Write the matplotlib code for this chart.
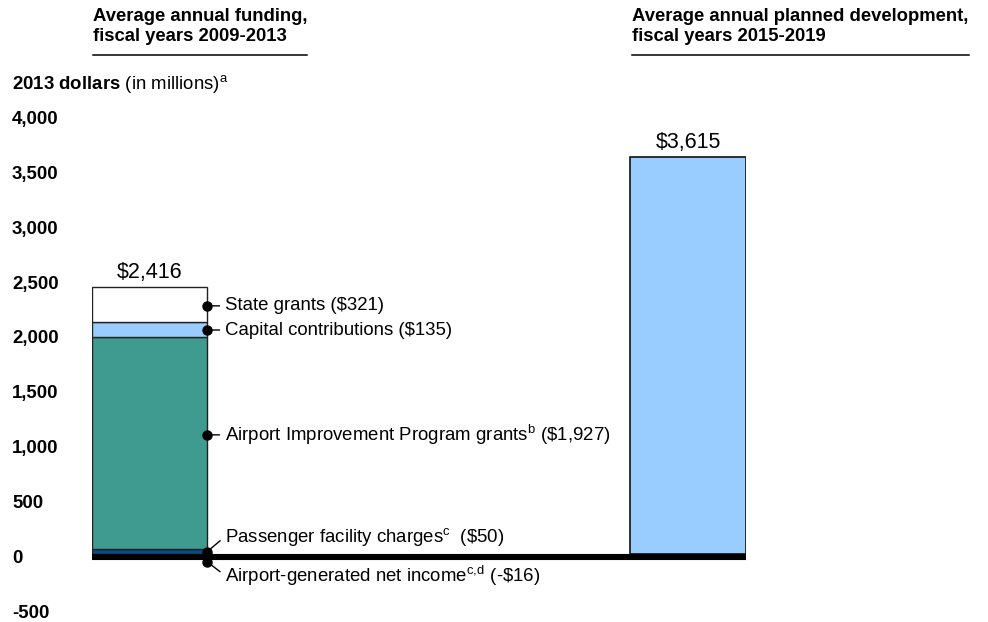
import matplotlib
matplotlib.use("Agg")
import matplotlib.pyplot as plt
from matplotlib.lines import Line2D
from matplotlib.transforms import ScaledTranslation

plt.rcParams['font.family'] = ['Liberation Sans', 'DejaVu Sans']
plt.rcParams['mathtext.fontset'] = 'custom'
plt.rcParams['mathtext.rm'] = 'Liberation Sans'
plt.rcParams['mathtext.it'] = 'Liberation Sans:italic'
plt.rcParams['mathtext.bf'] = 'Liberation Sans:bold'

# 2013 dollars, in millions
segment_names = [
    r"Airport-generated net income$^{\mathrm{c,\!d}}$ (-\$16)",
    r"Passenger facility charges$^{\mathrm{c}}$  (\$50)",
    r"Airport Improvement Program grants$^{\mathrm{b}}$ (\$1,927)",
    "Capital contributions (\\$135)",
    "State grants (\\$321)",
]
segment_values = [-16, 50, 1927, 135, 321]
segment_colors = ['#000000', '#0B4A86', '#3F9A90', '#99CCFF', '#FFFFFF']
funding_total = 2416
planned_total = 3615

yticks = [-500, 0, 500, 1000, 1500, 2000, 2500, 3000, 3500, 4000]

fig = plt.figure(figsize=(9.88, 6.22), dpi=100)
ax = fig.add_axes([92 / 988, 13.1 / 622, 654 / 988, 494.1 / 622])

w = 0.2136
# stacked bar for past funding
pos_bottom = 0
for val, col in zip(segment_values, segment_colors):
    if val < 0:
        ax.bar(0, val, width=w, bottom=0, color=col, edgecolor='#222222', linewidth=1)
    else:
        ax.bar(0, val, width=w, bottom=pos_bottom, color=col, edgecolor='#222222', linewidth=1)
        pos_bottom += val

# planned development bar
ax.bar(1, planned_total, width=w, color='#99CCFF', edgecolor='#111111', linewidth=1.2)

# heavy zero line
ax.axhline(-25, color='black', linewidth=4.4, zorder=3)

ax.annotate(f"${funding_total:,}".replace('$', '\\$'), (0, pos_bottom), xytext=(0, 3),
            textcoords='offset points', ha='center', va='bottom', fontsize=15.5)
ax.annotate(f"${planned_total:,}".replace('$', '\\$'), (1, planned_total), xytext=(0, 3),
            textcoords='offset points', ha='center', va='bottom', fontsize=15.5)

# callouts: anchor heights on the bar edge and text offsets (points)
callout_y = [-70, 20, 1085, 2040, 2260]
callout_dy = [-10, 11, 0, 0, 0]
edge = w / 2
for name, yy, dy in zip(segment_names, callout_y, callout_dy):
    ax.plot(edge, yy, 'o', color='black', markersize=6.5, clip_on=False, zorder=5)
    ax.annotate(name, (edge, yy), xytext=(13, dy), textcoords='offset points',
                ha='left', va='center', fontsize=13.4, annotation_clip=False,
                arrowprops=dict(arrowstyle='-', color='black', lw=1,
                                shrinkA=2, shrinkB=0, relpos=(0, 0.5)))

ax.set_xlim(-0.1068, 1.1077)
ax.set_ylim(-500, 4000)
ax.set_xticks([])
ax.set_yticks(yticks)
ax.set_yticklabels([f"{t:,}" for t in yticks], fontsize=13.4, fontweight='bold', ha='left')
ax.tick_params(axis='y', length=0, pad=57.6)
shift = ScaledTranslation(0, -2.5 / 100, fig.dpi_scale_trans)
for lab in ax.get_yticklabels():
    lab.set_transform(lab.get_transform() + shift)
for s in ax.spines.values():
    s.set_visible(False)

# column headers with rules
fig.text(93 / 988, 1 - 8 / 622, "Average annual funding,\nfiscal years 2009-2013",
         fontsize=13.3, fontweight='bold', va='top', ha='left', linespacing=1.22)
fig.text(632 / 988, 1 - 8 / 622, "Average annual planned development,\nfiscal years 2015-2019",
         fontsize=13.3, fontweight='bold', va='top', ha='left', linespacing=1.22)
fig.add_artist(Line2D([93 / 988, 307 / 988], [1 - 55 / 622] * 2, color='black', lw=1.1))
fig.add_artist(Line2D([632 / 988, 969 / 988], [1 - 54.5 / 622] * 2, color='black', lw=1.1))

fig.text(12 / 988, 1 - 84 / 622, r"$\bf{2013\ dollars}$ (in millions)$^{\mathrm{a}}$",
         fontsize=13.4, va='center', ha='left')

fig.savefig("out.png", dpi=100)
